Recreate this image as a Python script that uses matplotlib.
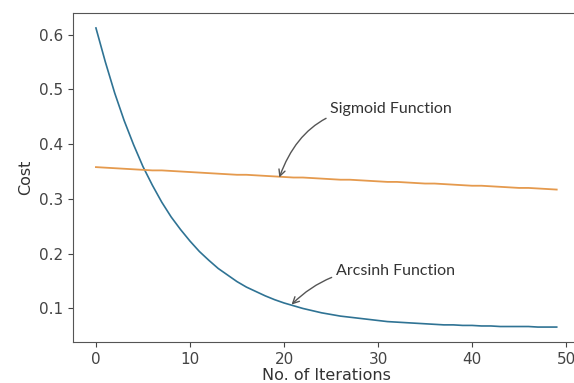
import numpy as np
import matplotlib.pyplot as plt

# cost per iteration
iterations = list(range(50))
arcsinh_cost = [0.612, 0.550, 0.493, 0.443, 0.399, 0.359, 0.325, 0.294, 0.267, 0.244,
                0.223, 0.204, 0.188, 0.173, 0.161, 0.149, 0.139, 0.131, 0.123, 0.116,
                0.110, 0.105, 0.100, 0.096, 0.092, 0.089, 0.086, 0.084, 0.082, 0.080,
                0.078, 0.076, 0.075, 0.074, 0.073, 0.072, 0.071, 0.070, 0.070, 0.069,
                0.069, 0.068, 0.068, 0.067, 0.067, 0.067, 0.067, 0.066, 0.066, 0.066]
sigmoid_cost = [0.358, 0.357, 0.356, 0.355, 0.354, 0.353, 0.352, 0.352, 0.351, 0.350,
                0.349, 0.348, 0.347, 0.346, 0.345, 0.344, 0.344, 0.343, 0.342, 0.341,
                0.340, 0.339, 0.339, 0.338, 0.337, 0.336, 0.335, 0.335, 0.334, 0.333,
                0.332, 0.331, 0.331, 0.330, 0.329, 0.328, 0.328, 0.327, 0.326, 0.325,
                0.324, 0.324, 0.323, 0.322, 0.321, 0.320, 0.320, 0.319, 0.318, 0.317]


def main():
    fig = plt.figure(figsize=(5.74, 3.83), dpi=100)
    ax = fig.add_axes([0.127, 0.107, 0.883, 0.859])

    ax.plot(iterations, arcsinh_cost, color="#2f7394", lw=1.2)
    ax.plot(iterations, sigmoid_cost, color="#e59a4e", lw=1.3)

    ax.set_xticks([0, 10, 20, 30, 40, 50])
    ax.set_yticks([0.1, 0.2, 0.3, 0.4, 0.5, 0.6])
    ax.tick_params(labelsize=11, colors="#444444")
    for s in ax.spines.values():
        s.set_color("#555555")
    ax.set_xlabel("No. of Iterations", fontsize=11.5, color="#333333", labelpad=1)
    ax.set_ylabel("Cost", fontsize=11.5, color="#333333")

    arrow = dict(arrowstyle="->", color="#555555", lw=1.0, shrinkA=1, shrinkB=0,
                 connectionstyle="arc3,rad=0.4")
    ax.annotate("Sigmoid Function", xy=(19.5, sigmoid_cost[19] - 0.002),
                xytext=(24.9, 0.464), va="center", fontsize=11.5, family="Lato",
                color="#333333", arrowprops=arrow)
    ax.annotate("Arcsinh Function", xy=(20.8, arcsinh_cost[21] + 0.002),
                xytext=(25.5, 0.169), va="center", fontsize=11.5, family="Lato",
                color="#333333",
                arrowprops=dict(arrow, connectionstyle="arc3,rad=0.25"))

    fig.savefig("out.png", dpi=100)


if __name__ == "__main__":
    main()
